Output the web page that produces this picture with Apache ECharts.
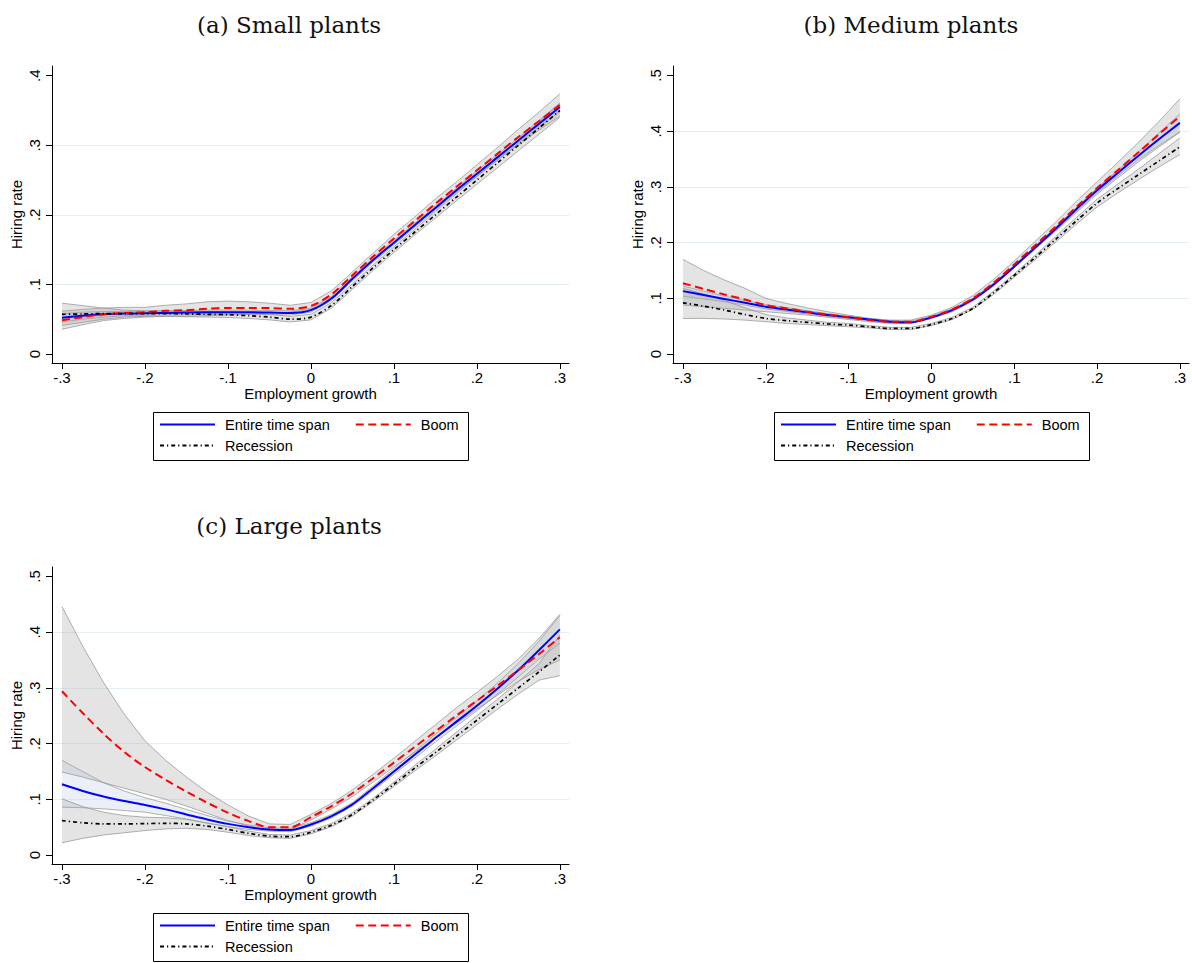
<!DOCTYPE html>
<html><head><meta charset="utf-8">
<script src="https://cdn.jsdelivr.net/npm/echarts@6/dist/echarts.min.js"></script>
<style>html,body{margin:0;padding:0;background:#fff}#c{width:1192px;height:963px}</style>
</head><body><div id="c"></div>
<script>
// ---------- data ----------
const xGrid = [-0.3,-0.275,-0.25,-0.225,-0.2,-0.175,-0.15,-0.125,-0.1,-0.075,-0.05,-0.025,0,0.025,0.05,0.075,0.1,0.125,0.15,0.175,0.2,0.225,0.25,0.275,0.3];
const xTicks = [-0.3,-0.2,-0.1,0,0.1,0.2,0.3];
const xTickLabels = ['-.3','-.2','-.1','0','.1','.2','.3'];
const yTicksSmall = [0,0.1,0.2,0.3,0.4];
const yTickLabelsSmall = ['0','.1','.2','.3','.4'];
const yTicksBig = [0,0.1,0.2,0.3,0.4,0.5];
const yTickLabelsBig = ['0','.1','.2','.3','.4','.5'];
const panelTitles = ['(a) Small plants','(b) Medium plants','(c) Large plants'];
const seriesNames = ['Entire time span','Boom','Recession'];
const xAxisTitle = 'Employment growth';
const yAxisTitle = 'Hiring rate';

// (a) Small plants
const smallEntire    = [0.052,0.055,0.057,0.058,0.0585,0.059,0.0595,0.060,0.060,0.060,0.0595,0.059,0.063,0.080,0.108,0.135,0.160,0.185,0.210,0.235,0.259,0.283,0.307,0.331,0.355];
const smallEntireLo  = [0.046,0.050,0.053,0.055,0.0555,0.056,0.0565,0.057,0.057,0.057,0.0565,0.056,0.060,0.077,0.105,0.132,0.157,0.182,0.207,0.232,0.255,0.279,0.303,0.326,0.349];
const smallEntireHi  = [0.058,0.060,0.061,0.061,0.0615,0.062,0.0625,0.063,0.063,0.063,0.0625,0.062,0.066,0.083,0.111,0.138,0.163,0.188,0.213,0.238,0.263,0.287,0.311,0.336,0.361];
const smallBoom      = [0.0485,0.053,0.057,0.059,0.060,0.062,0.063,0.065,0.066,0.066,0.066,0.065,0.069,0.086,0.113,0.140,0.166,0.191,0.216,0.240,0.264,0.288,0.312,0.335,0.358];
const smallBoomLo    = [0.0355,0.042,0.048,0.051,0.053,0.054,0.054,0.055,0.056,0.057,0.059,0.060,0.064,0.081,0.108,0.135,0.160,0.185,0.209,0.233,0.256,0.279,0.301,0.322,0.342];
const smallBoomHi    = [0.0615,0.064,0.066,0.067,0.067,0.070,0.072,0.075,0.076,0.075,0.073,0.070,0.074,0.091,0.118,0.145,0.172,0.197,0.223,0.247,0.272,0.297,0.323,0.348,0.374];
const smallRecession   = [0.057,0.0575,0.058,0.058,0.058,0.058,0.0575,0.057,0.0565,0.055,0.053,0.050,0.053,0.070,0.097,0.124,0.150,0.175,0.200,0.225,0.250,0.275,0.300,0.325,0.350];
const smallRecessionLo = [0.041,0.0455,0.050,0.053,0.054,0.054,0.0535,0.053,0.0525,0.051,0.049,0.046,0.049,0.066,0.093,0.120,0.146,0.171,0.195,0.220,0.244,0.268,0.292,0.316,0.340];
const smallRecessionHi = [0.073,0.0695,0.066,0.063,0.062,0.062,0.0615,0.061,0.0605,0.059,0.057,0.054,0.057,0.074,0.101,0.128,0.154,0.179,0.205,0.230,0.256,0.282,0.308,0.334,0.360];

// (b) Medium plants
const mediumEntire    = [0.113,0.106,0.099,0.092,0.085,0.080,0.075,0.070,0.066,0.062,0.058,0.057,0.066,0.079,0.098,0.125,0.157,0.191,0.225,0.260,0.294,0.325,0.356,0.386,0.415];
const mediumEntireLo  = [0.104,0.099,0.094,0.088,0.081,0.0765,0.072,0.0675,0.064,0.060,0.056,0.055,0.064,0.077,0.096,0.123,0.155,0.189,0.222,0.257,0.290,0.320,0.349,0.375,0.399];
const mediumEntireHi  = [0.122,0.113,0.104,0.096,0.089,0.0835,0.078,0.0725,0.068,0.064,0.060,0.059,0.068,0.081,0.100,0.127,0.159,0.193,0.228,0.263,0.298,0.330,0.363,0.397,0.431];
const mediumBoom      = [0.127,0.117,0.107,0.098,0.088,0.082,0.076,0.071,0.066,0.061,0.058,0.058,0.067,0.080,0.100,0.128,0.161,0.195,0.229,0.264,0.298,0.330,0.362,0.395,0.427];
const mediumBoomLo    = [0.088,0.085,0.082,0.079,0.076,0.073,0.070,0.066,0.062,0.058,0.055,0.055,0.064,0.076,0.095,0.122,0.155,0.188,0.221,0.254,0.287,0.316,0.345,0.372,0.398];
const mediumBoomHi    = [0.170,0.150,0.133,0.118,0.100,0.091,0.083,0.076,0.070,0.064,0.061,0.061,0.070,0.084,0.105,0.134,0.167,0.202,0.237,0.274,0.309,0.344,0.380,0.418,0.458];
const mediumRecession   = [0.092,0.086,0.079,0.071,0.064,0.060,0.057,0.054,0.052,0.049,0.046,0.046,0.053,0.064,0.082,0.110,0.141,0.173,0.206,0.239,0.271,0.297,0.322,0.347,0.372];
const mediumRecessionLo = [0.064,0.064,0.063,0.061,0.058,0.055,0.053,0.051,0.049,0.047,0.044,0.044,0.051,0.062,0.080,0.107,0.138,0.169,0.201,0.233,0.264,0.289,0.313,0.336,0.358];
const mediumRecessionHi = [0.118,0.108,0.096,0.083,0.071,0.065,0.061,0.057,0.055,0.051,0.048,0.048,0.055,0.066,0.084,0.113,0.144,0.177,0.211,0.245,0.278,0.305,0.332,0.360,0.388];

// (c) Large plants
const largeEntire    = [0.127,0.115,0.105,0.097,0.090,0.082,0.073,0.064,0.056,0.050,0.046,0.045,0.055,0.070,0.091,0.120,0.150,0.180,0.210,0.239,0.268,0.299,0.332,0.368,0.405];
const largeEntireLo  = [0.086,0.085,0.083,0.080,0.077,0.071,0.065,0.057,0.051,0.046,0.043,0.042,0.052,0.067,0.088,0.116,0.145,0.174,0.203,0.231,0.259,0.289,0.320,0.352,0.380];
const largeEntireHi  = [0.170,0.150,0.130,0.115,0.103,0.093,0.082,0.071,0.061,0.054,0.049,0.048,0.058,0.073,0.094,0.124,0.155,0.186,0.217,0.247,0.277,0.309,0.344,0.384,0.430];
const largeBoom      = [0.294,0.255,0.218,0.185,0.158,0.135,0.114,0.094,0.076,0.061,0.050,0.050,0.068,0.088,0.111,0.138,0.166,0.194,0.222,0.250,0.277,0.304,0.332,0.361,0.391];
const largeBoomLo    = [0.149,0.140,0.130,0.120,0.110,0.100,0.088,0.075,0.062,0.052,0.044,0.045,0.063,0.083,0.105,0.131,0.158,0.184,0.210,0.236,0.262,0.287,0.312,0.333,0.350];
const largeBoomHi    = [0.446,0.375,0.310,0.253,0.205,0.170,0.140,0.113,0.090,0.070,0.056,0.055,0.073,0.093,0.117,0.145,0.174,0.204,0.234,0.264,0.292,0.321,0.352,0.389,0.432];
const largeRecession   = [0.062,0.058,0.056,0.056,0.0565,0.057,0.056,0.052,0.046,0.039,0.034,0.033,0.041,0.054,0.073,0.099,0.127,0.156,0.184,0.213,0.242,0.271,0.300,0.329,0.359];
const largeRecessionLo = [0.022,0.030,0.036,0.040,0.044,0.047,0.048,0.046,0.041,0.035,0.031,0.030,0.038,0.051,0.070,0.096,0.123,0.151,0.178,0.206,0.234,0.262,0.289,0.314,0.322];
const largeRecessionHi = [0.101,0.087,0.077,0.071,0.068,0.067,0.064,0.058,0.051,0.043,0.037,0.036,0.044,0.057,0.076,0.102,0.131,0.161,0.190,0.220,0.250,0.280,0.311,0.344,0.395];

// ---------- layout / styles ----------
const FONT = '"Liberation Sans", Arial, Helvetica, sans-serif';
const panels = [
  { grid:{left:52, top:66, width:517, height:297}, yMin:-0.013, yMax:0.414, yTicks:yTicksSmall, yLabels:yTickLabelsSmall,
    lines:[smallEntire, smallBoom, smallRecession], lo:[smallEntireLo, smallBoomLo, smallRecessionLo], hi:[smallEntireHi, smallBoomHi, smallRecessionHi],
    titlePos:[289, 25], legendPos:[153, 412] },
  { grid:{left:673, top:66, width:516, height:297}, yMin:-0.016, yMax:0.517, yTicks:yTicksBig, yLabels:yTickLabelsBig,
    lines:[mediumEntire, mediumBoom, mediumRecession], lo:[mediumEntireLo, mediumBoomLo, mediumRecessionLo], hi:[mediumEntireHi, mediumBoomHi, mediumRecessionHi],
    titlePos:[911, 25], legendPos:[774, 412] },
  { grid:{left:52, top:567, width:517, height:297}, yMin:-0.016, yMax:0.517, yTicks:yTicksBig, yLabels:yTickLabelsBig,
    lines:[largeEntire, largeBoom, largeRecession], lo:[largeEntireLo, largeBoomLo, largeRecessionLo], hi:[largeEntireHi, largeBoomHi, largeRecessionHi],
    titlePos:[289, 526], legendPos:[153, 913] }
];
const lineStyles = [
  {color:'#0000ff', width:2, type:'solid'},
  {color:'#ff0000', width:2, type:[8,4.5]},
  {color:'#000000', width:1.7, type:[4,3,1.2,3]}
];
const bandFills = ['rgba(205,218,238,0.40)','rgba(165,165,165,0.30)','rgba(165,165,165,0.30)'];
const bandEdge = 'rgba(150,150,150,0.75)';

function labelFor(ticks, labels){
  return v => { const i = ticks.findIndex(t => Math.abs(t - v) < 1e-9); return i >= 0 ? labels[i] : ''; };
}
const pairs = arr => xGrid.map((x,i) => [x, arr[i]]);

function bandSeries(gi, lo, hi, fill){
  return {
    type:'custom', xAxisIndex:gi, yAxisIndex:gi, silent:true, z:1, clip:true,
    data: xGrid.map((x,i) => [x, lo[i], hi[i]]),
    encode:{x:0, y:[1,2]},
    renderItem:(params, api) => {
      if (params.dataIndex !== 0) return null;
      const upper = xGrid.map((x,i) => api.coord([x, hi[i]]));
      const lower = xGrid.map((x,i) => api.coord([x, lo[i]]));
      return {type:'group', children:[
        {type:'polygon', shape:{points: upper.concat(lower.slice().reverse())}, style:{fill:fill, stroke:null}},
        {type:'polyline', shape:{points: upper}, style:{stroke:bandEdge, lineWidth:1, fill:null}},
        {type:'polyline', shape:{points: lower}, style:{stroke:bandEdge, lineWidth:1, fill:null}}
      ]};
    }
  };
}

const grids = [], xAxes = [], yAxes = [], series = [], legends = [], graphics = [];
panels.forEach((p, gi) => {
  grids.push(Object.assign({containLabel:false, outerBoundsMode:'none'}, p.grid));
  xAxes.push({
    gridIndex:gi, type:'value', min:-0.312, max:0.311,
    axisLine:{show:true, onZero:false, lineStyle:{color:'#000', width:1}},
    axisTick:{show:true, customValues:xTicks, length:6, lineStyle:{color:'#000', width:1}},
    axisLabel:{show:true, customValues:xTicks, formatter:labelFor(xTicks, xTickLabels), fontSize:15, color:'#000', margin:7, fontFamily:FONT},
    splitLine:{show:false},
    name:xAxisTitle, nameLocation:'middle', nameGap:23,
    nameTextStyle:{fontSize:15, color:'#000', fontFamily:FONT}
  });
  yAxes.push({
    gridIndex:gi, type:'value', min:p.yMin, max:p.yMax,
    axisLine:{show:true, onZero:false, lineStyle:{color:'#000', width:1}},
    axisTick:{show:true, customValues:p.yTicks, length:6, lineStyle:{color:'#000', width:1}},
    axisLabel:{show:true, customValues:p.yTicks, formatter:labelFor(p.yTicks, p.yLabels), rotate:90, fontSize:15, color:'#000', margin:10, fontFamily:FONT},
    splitLine:{show:true, showMinLine:false, showMaxLine:false, lineStyle:{color:'#e4eef0', width:1}},
    name:yAxisTitle, nameLocation:'middle', nameGap:28, nameRotate:90,
    nameTextStyle:{fontSize:15, color:'#000', fontFamily:FONT}
  });
  for (let s = 0; s < 3; s++) series.push(bandSeries(gi, p.lo[s], p.hi[s], bandFills[s]));
  for (let s = 0; s < 3; s++) {
    series.push({
      type:'line', name:seriesNames[s], xAxisIndex:gi, yAxisIndex:gi, data:pairs(p.lines[s]),
      symbol:'none', showSymbol:false, smooth:0.3, silent:true, z:3,
      lineStyle:lineStyles[s], itemStyle:{color:lineStyles[s].color}
    });
  }
  const [lx, ly] = p.legendPos;
  const legendCommon = {
    orient:'horizontal', itemWidth:55, itemHeight:14, itemGap:25, padding:0, selectedMode:false,
    itemStyle:{opacity:0},
    textStyle:{fontSize:14.5, color:'#000', fontFamily:FONT, padding:[0,0,0,5]}
  };
  legends.push(Object.assign({data:[seriesNames[0], seriesNames[1]], left:lx+6, top:ly+5}, legendCommon));
  legends.push(Object.assign({data:[seriesNames[2]], left:lx+6, top:ly+26}, legendCommon));
  graphics.push({type:'rect', shape:{x:lx+0.5, y:ly+0.5, width:315, height:48}, style:{fill:'none', stroke:'#000', lineWidth:1}, silent:true, z:10});
  graphics.push({type:'text', x:p.titlePos[0], y:p.titlePos[1], silent:true,
    style:{text:panelTitles[gi], fontSize:23, fontFamily:'"DejaVu Serif", "Liberation Serif", serif', fill:'#111', align:'center', verticalAlign:'middle'}});
});

const chart = echarts.init(document.getElementById('c'), null, {renderer:'svg', width:1192, height:963});
chart.setOption({
  animation:false,
  backgroundColor:'#ffffff',
  grid:grids, xAxis:xAxes, yAxis:yAxes, series:series, legend:legends, graphic:graphics
});
</script></body></html>
